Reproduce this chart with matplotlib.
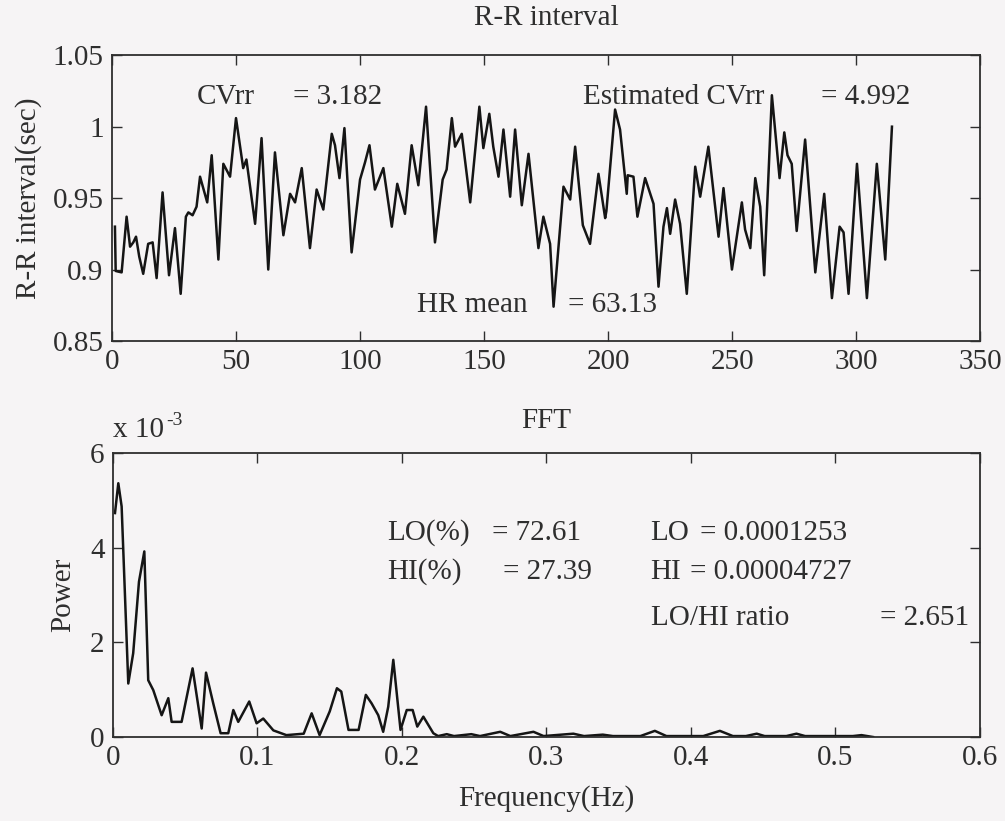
import matplotlib
matplotlib.use("Agg")
import matplotlib.pyplot as plt
from matplotlib.ticker import FuncFormatter

# R-R interval series (beat index, seconds)
rr_index = [1.2, 1.5, 3.9, 5.9, 7.3, 8.6, 9.7, 11, 12.6, 14.6, 16.4, 18, 20.4, 23, 25.4, 27.7,
            29.8, 30.8, 32.5, 34.1, 35.5, 38.4, 40.2, 42.9, 44.9, 47.6, 50, 52.9, 54.2, 57.7,
            60.3, 63, 65.7, 69.1, 71.8, 73.8, 76.5, 79.8, 82.5, 85.2, 88.6, 89.9, 91.7, 93.7,
            96.6, 100, 102, 103.8, 106, 109.4, 112.8, 115, 118.1, 120.8, 123.5, 126.6, 130.2,
            133.3, 134.9, 137, 138.3, 141, 144.4, 148.1, 149.7, 152.1, 153.7, 155.8, 157.8,
            160.5, 162.5, 165.2, 167.9, 171.9, 173.9, 176.6, 178, 182, 184.7, 186.7, 189.8,
            192.7, 196.1, 198.8, 199.3, 202.8, 204.8, 207.5, 207.9, 210.2, 211.8, 214.9, 218.3,
            220.3, 222.3, 223.7, 225, 227, 229, 231.7, 235.1, 237.1, 240.4, 244.5, 246.5,
            249.9, 253.9, 255.2, 257.3, 259.3, 261.3, 262.9, 266, 269.1, 271, 272.3, 274, 276,
            279.4, 283.5, 287.1, 290.2, 293.3, 294.9, 296.9, 300.3, 304.3, 308.3, 311.7, 314.4]
rr_sec = [0.930, 0.899, 0.898, 0.937, 0.916, 0.919, 0.923, 0.909, 0.897, 0.918, 0.919, 0.894,
          0.954, 0.896, 0.929, 0.883, 0.937, 0.940, 0.938, 0.944, 0.965, 0.947, 0.980, 0.907,
          0.974, 0.965, 1.006, 0.971, 0.977, 0.932, 0.992, 0.900, 0.982, 0.924, 0.953, 0.947,
          0.971, 0.915, 0.956, 0.942, 0.995, 0.987, 0.964, 0.999, 0.912, 0.963, 0.975, 0.987,
          0.956, 0.971, 0.930, 0.960, 0.939, 0.987, 0.959, 1.014, 0.919, 0.963, 0.970, 1.006,
          0.986, 0.995, 0.947, 1.014, 0.985, 1.009, 0.986, 0.965, 0.998, 0.951, 0.998, 0.945,
          0.981, 0.915, 0.937, 0.918, 0.874, 0.958, 0.949, 0.986, 0.931, 0.918, 0.967, 0.936,
          0.941, 1.012, 0.998, 0.953, 0.966, 0.965, 0.937, 0.964, 0.946, 0.888, 0.930, 0.943,
          0.925, 0.949, 0.932, 0.883, 0.972, 0.951, 0.986, 0.923, 0.957, 0.900, 0.947, 0.928,
          0.915, 0.964, 0.944, 0.896, 1.022, 0.964, 0.996, 0.980, 0.974, 0.927, 0.991, 0.898,
          0.953, 0.880, 0.930, 0.926, 0.883, 0.974, 0.880, 0.974, 0.907, 1.000]

# FFT power spectrum (Hz, power in units of 1e-3)
freq_hz = [0.0014, 0.0037, 0.006, 0.0106, 0.014, 0.018, 0.0217, 0.0244, 0.0279, 0.0337,
           0.0383, 0.0406, 0.0475, 0.0551, 0.0614, 0.0644, 0.0694, 0.0745, 0.0798, 0.0833,
           0.0867, 0.0943, 0.0994, 0.104, 0.111, 0.120, 0.132, 0.1375, 0.143, 0.150,
           0.155, 0.158, 0.163, 0.170, 0.175, 0.179, 0.1836, 0.187, 0.1905, 0.194,
           0.199, 0.2033, 0.2074, 0.2106, 0.2148, 0.2217, 0.225, 0.231, 0.236, 0.248,
           0.254, 0.268, 0.275, 0.291, 0.298, 0.3186, 0.326, 0.339, 0.346, 0.365,
           0.375, 0.383, 0.4085, 0.420, 0.429, 0.438, 0.4455, 0.451, 0.466, 0.473,
           0.479, 0.512, 0.518, 0.526]
power_e3 = [4.73, 5.36, 4.87, 1.13, 1.77, 3.28, 3.92, 1.2, 0.99, 0.46,
            0.82, 0.32, 0.32, 1.45, 0.18, 1.36, 0.71, 0.08, 0.08, 0.57,
            0.32, 0.75, 0.29, 0.39, 0.14, 0.04, 0.07, 0.5, 0.04, 0.54,
            1.03, 0.96, 0.15, 0.15, 0.89, 0.71, 0.46, 0.11, 0.64, 1.63,
            0.15, 0.57, 0.57, 0.22, 0.43, 0.08, 0.02, 0.06, 0.02, 0.06,
            0.02, 0.11, 0.02, 0.11, 0.02, 0.07, 0.02, 0.05, 0.02, 0.02,
            0.13, 0.02, 0.02, 0.13, 0.02, 0.02, 0.07, 0.02, 0.02, 0.07,
            0.02, 0.02, 0.04, 0.0]

top_xticks = [0, 50, 100, 150, 200, 250, 300, 350]
top_yticks = [0.85, 0.9, 0.95, 1.0, 1.05]
bot_xticks = [0, 0.1, 0.2, 0.3, 0.4, 0.5, 0.6]
bot_yticks = [0, 2, 4, 6]

bg = "#f6f4f5"
ink = "#2e2e2e"
plt.rcParams["font.family"] = ["Liberation Serif", "DejaVu Serif"]
plt.rcParams["font.size"] = 21
plt.rcParams["text.color"] = ink
plt.rcParams["axes.labelcolor"] = ink
plt.rcParams["xtick.color"] = ink
plt.rcParams["ytick.color"] = ink

fig = plt.figure(figsize=(10.05, 8.21), dpi=100, facecolor=bg)


def style(ax):
    ax.set_facecolor(bg)
    for s in ax.spines.values():
        s.set_color(ink)
        s.set_linewidth(1.3)
    ax.tick_params(direction="in", top=True, right=True, length=7, width=1.0, pad=6)


def trim(v, pos):
    return ("%g" % v)


#=========== top: R-R interval ===========
ax1 = fig.add_axes([0.1114, 0.5847, 0.864, 0.348])
style(ax1)
ax1.plot(rr_index, rr_sec, color="#151515", lw=1.8)
ax1.set_xlim(0, 350)
ax1.set_ylim(0.85, 1.05)
ax1.set_xticks(top_xticks)
ax1.set_yticks(top_yticks)
ax1.yaxis.set_major_formatter(FuncFormatter(trim))
ax1.set_title("R-R interval", fontsize=21, pad=22)
ax1.set_ylabel("R-R interval(sec)", labelpad=8)

ax1.text(34, 1.021, "CVrr", va="center")
ax1.text(73, 1.021, "= 3.182", va="center")
ax1.text(190, 1.021, "Estimated CVrr", va="center")
ax1.text(286, 1.021, "= 4.992", va="center")
ax1.text(123, 0.875, "HR mean", va="center")
ax1.text(184, 0.875, "= 63.13", va="center")

#=========== bottom: FFT ===========
ax2 = fig.add_axes([0.1124, 0.1023, 0.8627, 0.346])
style(ax2)
ax2.plot(freq_hz, power_e3, color="#151515", lw=1.8)
ax2.set_xlim(0, 0.6)
ax2.set_ylim(0, 6)
ax2.set_xticks(bot_xticks)
ax2.set_yticks(bot_yticks)
ax2.xaxis.set_major_formatter(FuncFormatter(trim))
ax2.set_title("FFT", fontsize=21, pad=18)
ax2.set_xlabel("Frequency(Hz)", labelpad=10)
ax2.set_ylabel("Power", labelpad=10)
# MATLAB style exponent label
ax2.text(0.0, 1.035, "x 10", transform=ax2.transAxes, va="bottom", ha="left")
ax2.text(0.062, 1.085, "-3", transform=ax2.transAxes, va="bottom", ha="left", fontsize=14)

ax2.text(0.190, 4.31, "LO(%)", va="center")
ax2.text(0.262, 4.31, "= 72.61", va="center")
ax2.text(0.190, 3.49, "HI(%)", va="center")
ax2.text(0.270, 3.49, "= 27.39", va="center")
ax2.text(0.372, 4.31, "LO", va="center")
ax2.text(0.406, 4.31, "= 0.0001253", va="center")
ax2.text(0.372, 3.49, "HI", va="center")
ax2.text(0.399, 3.49, "= 0.00004727", va="center")
ax2.text(0.372, 2.51, "LO/HI ratio", va="center")
ax2.text(0.531, 2.51, "= 2.651", va="center")

fig.savefig("out.png", dpi=100, facecolor=bg)
